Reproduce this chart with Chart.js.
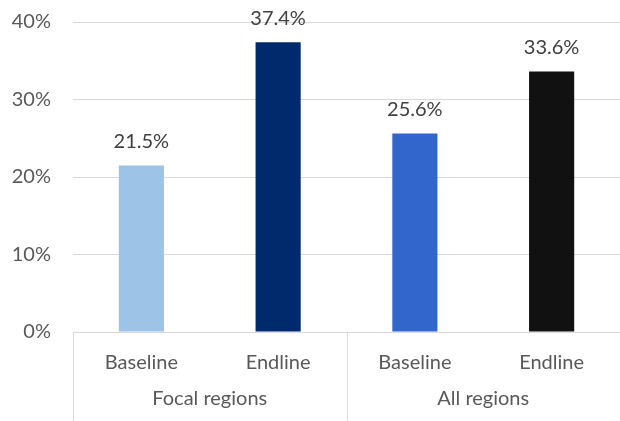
<!DOCTYPE html>
<html>
<head>
<meta charset="utf-8">
<script src="https://cdn.jsdelivr.net/npm/chart.js@4"></script>
<style>
  html, body { margin: 0; padding: 0; background: #fff; }
  #wrap { width: 620px; height: 421px; overflow: hidden; }
</style>
</head>
<body>
<div id="wrap"><canvas id="chart"></canvas></div>
<script>
const categories = ['Baseline', 'Endline', 'Baseline', 'Endline'];
const groups = ['Focal regions', 'All regions'];
const groupSizes = [2, 2];
const values = [21.5, 37.4, 25.6, 33.6];
const barColors = ['#9DC3E6', '#002A6C', '#3366CC', '#111111'];
const yTicks = [0, 10, 20, 30, 40];

const FONT = "Lato, 'Open Sans', sans-serif";
const gridColor = '#D9D9D9';

// value labels above the bars
const valueLabels = {
    id: 'valueLabels',
    afterDatasetsDraw(chart) {
        const ctx = chart.ctx;
        const meta = chart.getDatasetMeta(0);
        ctx.save();
        ctx.font = '20px ' + FONT;
        ctx.fillStyle = '#404040';
        ctx.textAlign = 'center';
        ctx.textBaseline = 'middle';
        meta.data.forEach((bar, i) => {
            ctx.fillText(values[i].toFixed(1) + '%', bar.x, bar.y - 24);
        });
        ctx.restore();
    }
};

// group labels and separators under the x axis
const groupAxis = {
    id: 'groupAxis',
    afterDraw(chart) {
        const ctx = chart.ctx;
        const x = chart.scales.x;
        const area = chart.chartArea;
        const half = (x.getPixelForValue(1) - x.getPixelForValue(0)) / 2;
        ctx.save();
        ctx.strokeStyle = gridColor;
        ctx.lineWidth = 1;
        ctx.font = '20px ' + FONT;
        ctx.fillStyle = '#595959';
        ctx.textAlign = 'center';
        ctx.textBaseline = 'middle';
        let start = 0;
        groups.forEach((g, gi) => {
            const end = start + groupSizes[gi] - 1;
            const left = x.getPixelForValue(start) - half;
            const right = x.getPixelForValue(end) + half;
            [left, right].forEach(px => {
                const xx = Math.round(px) + 0.5;
                ctx.beginPath();
                ctx.moveTo(xx, area.bottom);
                ctx.lineTo(xx, chart.height);
                ctx.stroke();
            });
            ctx.fillText(g, (left + right) / 2, area.bottom + 67);
            start = end + 1;
        });
        ctx.restore();
    }
};

new Chart(document.getElementById('chart'), {
    type: 'bar',
    data: {
        labels: categories,
        datasets: [{
            data: values,
            backgroundColor: barColors,
            barPercentage: 0.33,
            categoryPercentage: 1
        }]
    },
    options: {
        responsive: true,
        maintainAspectRatio: false,
        animation: false,
        layout: { padding: { top: 22, right: -5, bottom: 0, left: 0 } },
        plugins: {
            legend: { display: false },
            tooltip: { enabled: false }
        },
        scales: {
            x: {
                grid: { display: false, drawTicks: false },
                border: { display: true, color: gridColor },
                ticks: {
                    color: '#595959',
                    font: { family: FONT, size: 20 },
                    padding: 19
                },
                afterFit(scale) { scale.height = 89; }
            },
            y: {
                min: 0,
                max: 40,
                afterBuildTicks(scale) {
                    scale.ticks = yTicks.map(v => ({ value: v }));
                },
                grid: { color: gridColor, drawTicks: false },
                border: { display: false },
                ticks: {
                    color: '#595959',
                    font: { family: FONT, size: 20 },
                    padding: 22,
                    callback: v => v + '%'
                },
                afterFit(scale) {
                    scale.width = 73;
                    scale.paddingTop = 0;
                    scale.paddingBottom = 0;
                }
            }
        }
    },
    plugins: [valueLabels, groupAxis]
});
</script>
</body>
</html>
